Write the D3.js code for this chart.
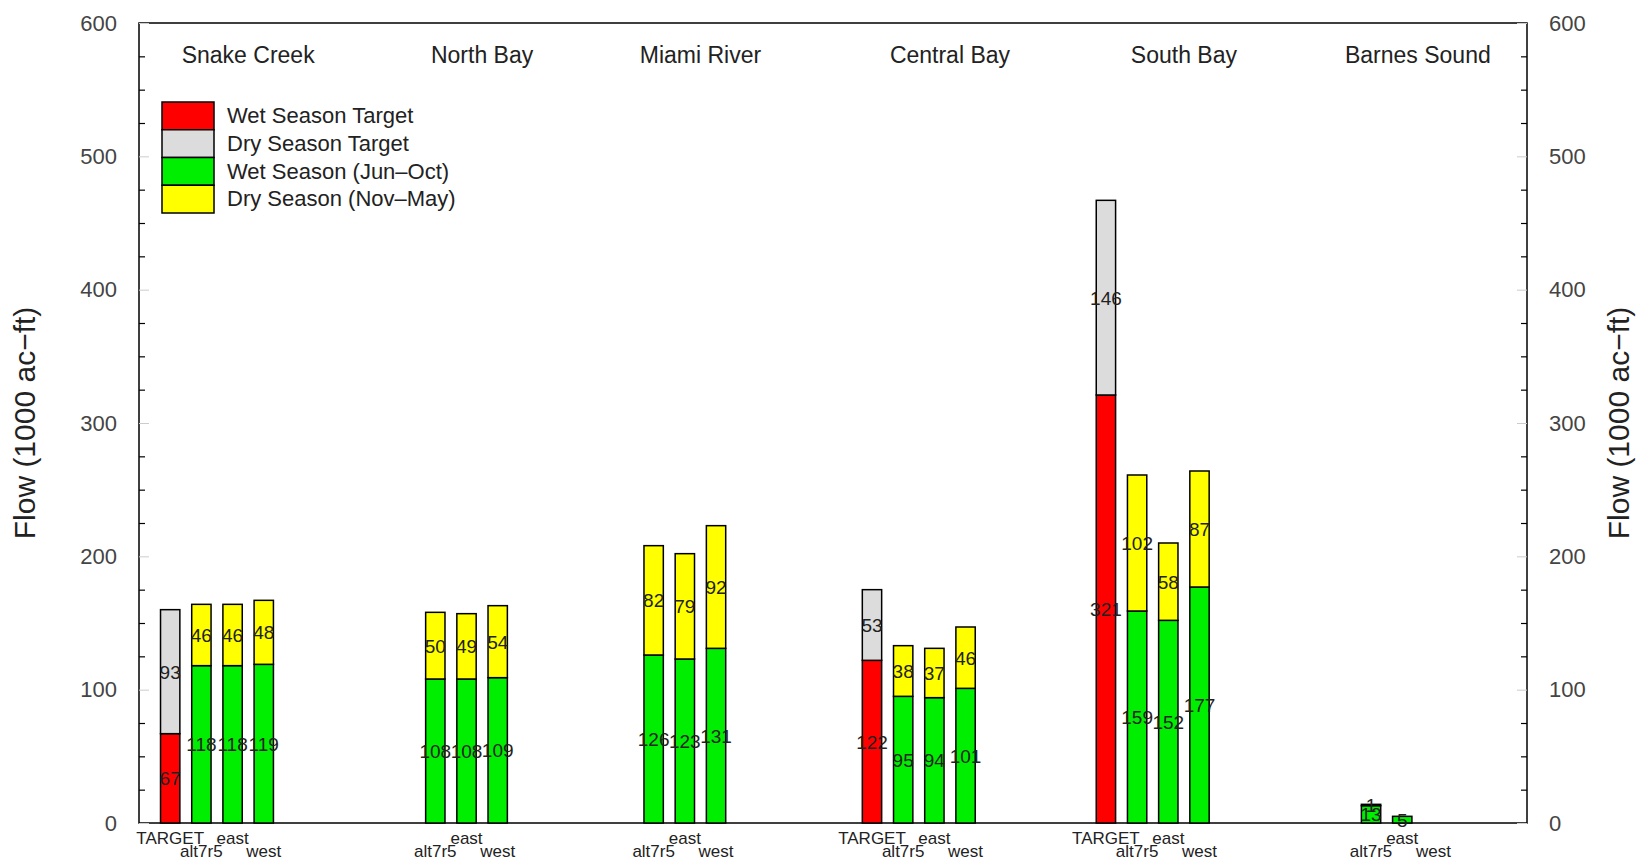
<!DOCTYPE html>
<html><head><meta charset="utf-8">
<script src="https://cdn.jsdelivr.net/npm/d3@7"></script>
<style>
body{margin:0;background:#fff;}
text{font-family:"Liberation Sans",Arial,sans-serif;}
</style></head>
<body><svg id="chart" width="1636" height="860"></svg>
<script>
const regions = ["Snake Creek","North Bay","Miami River","Central Bay","South Bay","Barnes Sound"];
// x position (in bar units) of each region's first slot
const regionStart = [1, 8.5, 15.5, 23.5, 31, 38.5];
const scenarios = ["TARGET","alt7r5","east","west"];
// wet season values (TARGET wet = red, others green); null = no bar
const wetValues = [
  [67,118,118,119],
  [null,108,108,109],
  [null,126,123,131],
  [122,95,94,101],
  [321,159,152,177],
  [null,13,5,0]
];
// dry season values (TARGET dry = grey, others yellow)
const dryValues = [
  [93,46,46,48],
  [null,50,49,54],
  [null,82,79,92],
  [53,38,37,46],
  [146,102,58,87],
  [null,1,0,0]
];
const yTicks = [0,100,200,300,400,500,600];
const legendLabels = ["Wet Season Target","Dry Season Target","Wet Season (Jun\u2013Oct)","Dry Season (Nov\u2013May)"];
const legendColors = ["#ff0000","#dcdcdc","#00ee00","#ffff00"];
const yTitle = "Flow (1000 ac\u2212ft)";

const L=139,R=1527,T=23,B=823;
const svg=d3.select("#chart");
const x=d3.scaleLinear().domain([0,44.5]).range([L,R]);
const y=d3.scaleLinear().domain([0,600]).range([B,T]);
const barW=0.62;
const pos=(g,s)=>regionStart[g]+s;

// frame
svg.append("rect").attr("x",L).attr("y",T).attr("width",R-L).attr("height",B-T)
  .attr("fill","none").attr("stroke","#000").attr("stroke-width",1.5);

// axes
const minor=d3.range(0,601,25).filter(v=>v%100!==0);
function addAxis(axisFn,xpos){
  const gMaj=svg.append("g").attr("transform",`translate(${xpos},0)`)
    .call(axisFn(y).tickValues(yTicks).tickSize(-10).tickPadding(22).tickFormat(d3.format("d")));
  gMaj.select(".domain").remove();
  gMaj.selectAll(".tick line").attr("stroke","#ccc");
  gMaj.selectAll(".tick text").attr("font-size",22).attr("fill","#444").style("font-family","Liberation Sans, Arial, sans-serif");
  const gMin=svg.append("g").attr("transform",`translate(${xpos},0)`)
    .call(axisFn(y).tickValues(minor).tickSize(-6).tickFormat(""));
  gMin.select(".domain").remove();
  gMin.selectAll(".tick line").attr("stroke","#000").attr("stroke-width",1.2);
}
addAxis(d3.axisLeft,L);
addAxis(d3.axisRight,R);

// axis titles
svg.append("text").attr("transform",`translate(35,${(T+B)/2}) rotate(-90)`)
  .attr("text-anchor","middle").attr("font-size",30).attr("fill","#222").text(yTitle);
svg.append("text").attr("transform",`translate(1629,${(T+B)/2}) rotate(-90)`)
  .attr("text-anchor","middle").attr("font-size",30).attr("fill","#222").text(yTitle);

// bars
const bars=[];
regions.forEach((r,g)=>{
  scenarios.forEach((s,j)=>{
    const w=wetValues[g][j], d=dryValues[g][j];
    if(w==null) return;
    const isT = s==="TARGET";
    bars.push({g,j,y0:0,y1:w,v:w,color:isT?legendColors[0]:legendColors[2]});
    bars.push({g,j,y0:w,y1:w+d,v:d,color:isT?legendColors[1]:legendColors[3]});
  });
});
const barG=svg.append("g");
barG.selectAll("rect").data(bars.filter(b=>b.v>0)).join("rect")
  .attr("x",b=>x(pos(b.g,b.j)-barW/2)).attr("width",x(barW)-x(0))
  .attr("y",b=>y(b.y1)).attr("height",b=>y(b.y0)-y(b.y1))
  .attr("fill",b=>b.color).attr("stroke","#000").attr("stroke-width",1.5);
barG.selectAll("text").data(bars.filter(b=>b.v>0)).join("text")
  .attr("x",b=>x(pos(b.g,b.j))).attr("y",b=>y((b.y0+b.y1)/2)).attr("dy","0.36em")
  .attr("text-anchor","middle").attr("font-size",19).attr("fill","#222").text(b=>b.v);

// x labels and region titles
regions.forEach((r,g)=>{
  scenarios.forEach((s,j)=>{
    if(s==="TARGET" && wetValues[g][j]==null) return;
    svg.append("text").attr("x",x(pos(g,j))).attr("y",j%2===0?844:857)
      .attr("text-anchor","middle").attr("font-size",17).attr("fill","#222").text(s);
  });
  svg.append("text").attr("x",x(pos(g,0)+2.5)).attr("y",63)
    .attr("text-anchor","middle").attr("font-size",23).attr("fill","#222").text(r);
});

// legend
const lg=svg.append("g");
legendLabels.forEach((lab,i)=>{
  lg.append("rect").attr("x",162).attr("y",102+i*27.75).attr("width",52).attr("height",27.75)
    .attr("fill",legendColors[i]).attr("stroke","#000").attr("stroke-width",1.5);
  lg.append("text").attr("x",227).attr("y",102+i*27.75+21).attr("font-size",22).attr("fill","#222").text(lab);
});
</script></body></html>
